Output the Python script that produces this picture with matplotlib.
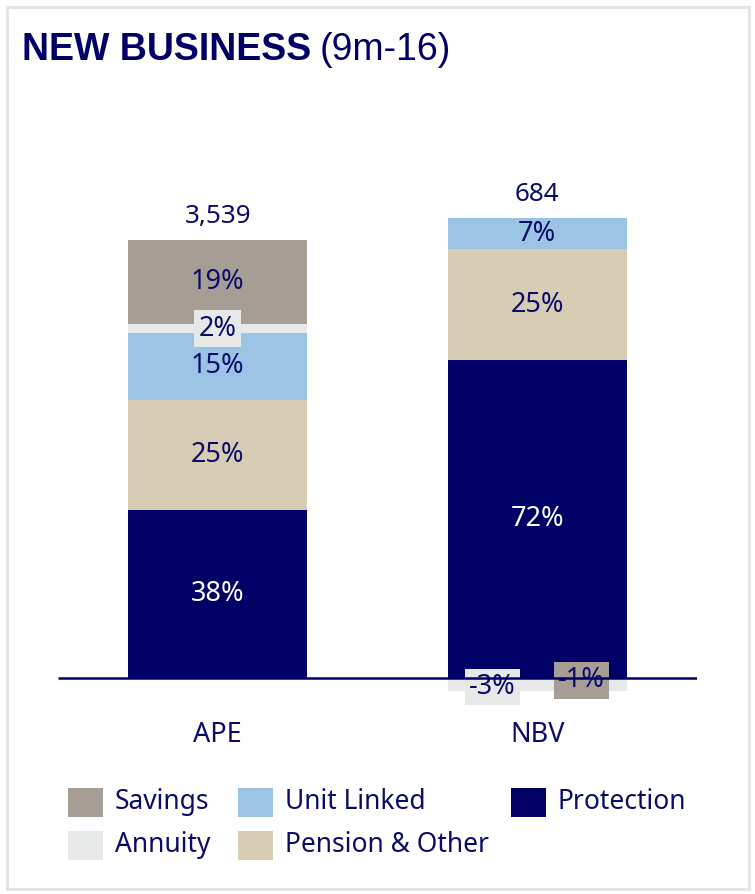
import matplotlib
matplotlib.use("Agg")
import matplotlib.pyplot as plt
from matplotlib.patches import Rectangle

# ---- data -------------------------------------------------------------
categories = ["APE", "NBV"]
totals = [3539, 684]
series_names = ["Protection", "Pension & Other", "Unit Linked", "Annuity", "Savings"]
protection = [38, 72]
pension_other = [25, 25]
unit_linked = [15, 7]
annuity = [2, -3]
savings = [19, -1]

# ---- style ------------------------------------------------------------
NAVY = "#000066"
TEXT = "#0c0c68"
colors = {
    "Protection": NAVY,
    "Pension & Other": "#d6cdb4",
    "Unit Linked": "#9ac3e4",
    "Annuity": "#e6e9e8",
    "Savings": "#a69d94",
}
label_colors = {"Protection": "white"}
# small segments get a boxed label placed off-centre (x offset, y value)
boxed_labels = {
    ("APE", "Annuity"): (0.0, None),
    ("NBV", "Annuity"): (-0.14, -2.0),
    ("NBV", "Savings"): (0.138, -0.5),
}

W, H = 755, 894
fig = plt.figure(figsize=(W / 100, H / 100), dpi=100)
fig.patch.set_facecolor("white")

# light frame round the panel
fig.add_artist(Rectangle((7 / W, 1 - 889 / H), 742 / W, 882 / H,
                         transform=fig.transFigure, fill=False,
                         edgecolor="#e3e6e5", linewidth=2.2))

# axes placement in pixels
ax_left, ax_right = 58, 697
ax_top, ax_bottom = 150, 700
zero_px = 678
px_per_pct = 4.42
ax = fig.add_axes([ax_left / W, 1 - ax_bottom / H,
                   (ax_right - ax_left) / W, (ax_bottom - ax_top) / H])
ax.set_xlim(-0.5, 1.5)
ax.set_ylim(-(ax_bottom - zero_px) / px_per_pct, (zero_px - ax_top) / px_per_pct)
ax.axis("off")

values = {
    "Protection": protection,
    "Pension & Other": pension_other,
    "Unit Linked": unit_linked,
    "Annuity": annuity,
    "Savings": savings,
}

x = list(range(len(categories)))
bar_w = 0.56
font = "Noto Sans"
fs_pct = 19.5
fs = 18.8

pos_base = [0.0] * len(categories)
for name in series_names:
    vals = values[name]
    for i, v in enumerate(vals):
        if v >= 0:
            bottom = pos_base[i]
            pos_base[i] += v
            z = 2
        else:
            bottom = 0.0
            z = 2 + abs(v)  # larger negative share sits in front
        ax.bar(x[i], v, bottom=bottom, width=bar_w, color=colors[name],
               linewidth=0, zorder=z)
        key = (categories[i], name)
        tcol = label_colors.get(name, TEXT)
        if key in boxed_labels:
            dx, yy = boxed_labels[key]
            if yy is None:
                yy = bottom + v / 2
            ax.text(x[i] + dx, yy, f"{v}%", ha="center", va="center",
                    color=TEXT, fontsize=fs_pct, family=font, zorder=10,
                    bbox=dict(boxstyle="square,pad=0.16", fc=colors[name],
                              ec="none"))
        else:
            ax.text(x[i], bottom + v / 2, f"{v}%", ha="center", va="center",
                    color=tcol, fontsize=fs_pct, family=font, zorder=10)

# totals above each bar
for i, t in enumerate(totals):
    ax.annotate(f"{t:,}", xy=(x[i], pos_base[i]), xytext=(0, 8),
                textcoords="offset points", ha="center", va="bottom",
                color=TEXT, fontsize=fs, family=font)

# baseline
ax.plot([-0.5, 1.5], [0, 0], color=NAVY, linewidth=1.8, zorder=20,
        solid_capstyle="butt")

# category labels
for i, c in enumerate(categories):
    ax.text(x[i], (zero_px - 735) / px_per_pct, c, ha="center", va="center",
            color=TEXT, fontsize=fs_pct, family=font)

# title
t1 = fig.text(22 / W, 1 - 60 / H, "NEW BUSINESS", family="Liberation Sans",
              fontweight="bold", fontsize=27, color=NAVY, va="baseline")
ax.annotate("(9m-16)", xy=(1, 0), xycoords=t1, xytext=(6, 0),
            textcoords="offset points", ha="left", va="bottom",
            family="Liberation Sans", fontsize=27, color=NAVY,
            annotation_clip=False)

# legend, drawn by hand in a 3-column grid
legend_order = ["Savings", "Annuity", "Unit Linked", "Pension & Other", "Protection"]
col_x = [68, 238, 511]
row_y = [802, 845]
sq_w, sq_h = 35, 29
for k, name in enumerate(legend_order):
    c, r = divmod(k, 2)
    px, py = col_x[c], row_y[r]
    fig.add_artist(Rectangle((px / W, 1 - (py + sq_h / 2) / H), sq_w / W, sq_h / H,
                             transform=fig.transFigure, facecolor=colors[name],
                             edgecolor="none"))
    fig.text((px + sq_w + 12) / W, 1 - py / H, name, ha="left", va="center",
             color=TEXT, fontsize=19, family=font)

fig.savefig("out.png", dpi=100, facecolor="white")
